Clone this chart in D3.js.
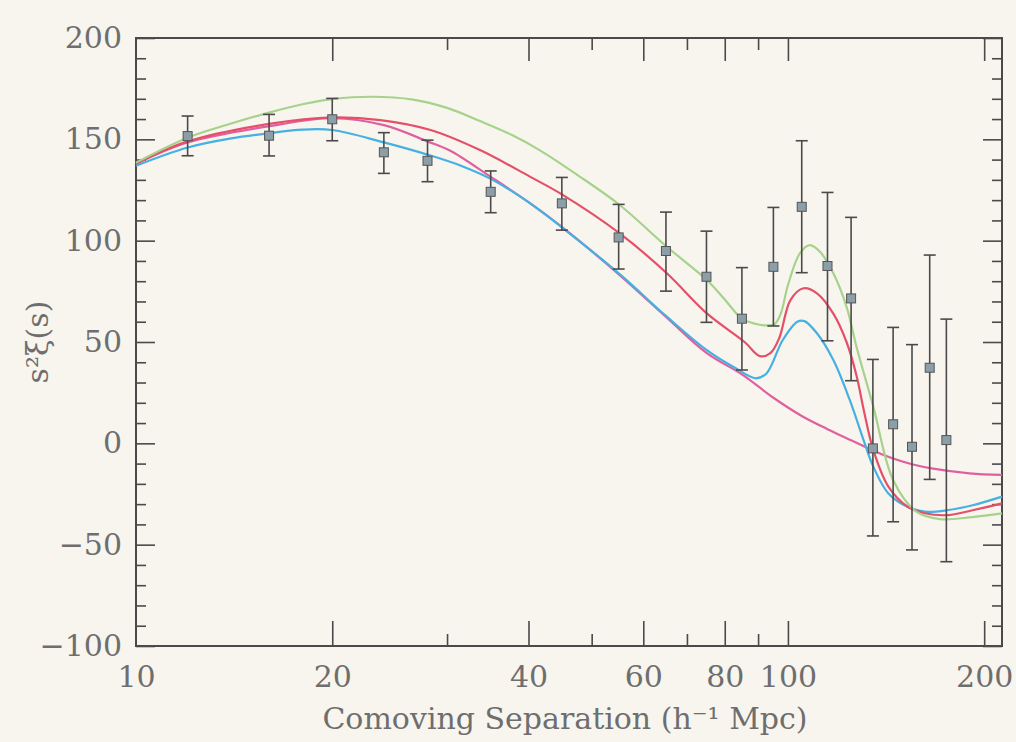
<!DOCTYPE html>
<html>
<head>
<meta charset="utf-8">
<script src="https://cdn.jsdelivr.net/npm/d3@7"></script>
<style>
  html, body { margin: 0; padding: 0; background: #f8f5ee; }
  svg { display: block; }
</style>
</head>
<body>
<svg id="chart" width="1016" height="742"></svg>
<script>
// ---- data ----
const pointS   = [12, 16, 20, 24, 28, 35, 45, 55, 65, 75, 85, 95, 105, 115, 125, 135, 145, 155, 165, 175];
const pointVal = [151.6, 151.8, 159.9, 143.6, 139.4, 124.1, 118.4, 101.6, 94.9, 82.2, 61.5, 87.1, 116.7, 87.5, 71.5, -2.5, 9.4, -1.7, 37.3, 1.6];
const errHigh  = [161.5, 162.3, 170.2, 153.3, 149.6, 134.4, 131.2, 117.9, 114.1, 104.7, 86.7, 116.4, 149.3, 123.8, 111.5, 41.4, 57.2, 48.7, 92.9, 61.3];
const errLow   = [141.9, 141.8, 149.3, 133.2, 129.1, 113.8, 105.2, 86.0, 75.1, 59.7, 36.2, 57.9, 84.2, 50.6, 30.9, -45.7, -38.7, -52.6, -17.8, -58.4];

// model curves: [s, s^2 xi(s)]
const greenCurve = [[10,138.5],[12,150.8],[14,157.8],[16,163.2],[18,167.3],[20,169.8],[23,171],[26.6,169.6],[30,165.5],[33.7,159],[37.8,152],[41.6,144.7],[47.5,132.5],[55.2,117.6],[65.2,97],[75.1,80.6],[80,71],[85,61.5],[89,59],[92.5,58.2],[95.4,58.8],[97.5,64],[100,78],[104.3,93.7],[108,97.8],[112,94.5],[117.4,83.9],[123,67.4],[127.4,47.7],[135.2,18.1],[145,-18.1],[157.4,-33.7],[171,-37.4],[192,-36.4],[213,-34.6]];
const redCurve   = [[10,138],[12,149],[16,157.6],[20,160.8],[23.7,159.5],[28.3,154.6],[33.7,144.7],[40.2,131.6],[45.2,122.5],[55.2,103.6],[65.2,83.9],[75.1,64.1],[85.8,50],[90.6,43],[94,44.5],[97,52],[100.9,70.7],[105.7,76.5],[110.8,74],[117.4,64],[123,50],[127.4,33.5],[131,15],[135.2,-3.3],[142.6,-21.4],[152.6,-31.3],[162.2,-34.5],[176.2,-35.4],[192.7,-32.9],[213,-29.6]];
const blueCurve  = [[10,137],[12,146],[14,150.5],[16,153],[18,154.8],[20,154.6],[24,148.5],[28.3,142],[31.5,137],[35,130.5],[40,119],[45.2,106.1],[55.2,83.5],[65.2,62.5],[75.1,46],[82.4,37.8],[89.3,32.1],[92.7,34.5],[98.2,51],[103.4,60],[106,60.3],[110.8,54.3],[117.4,41.1],[124.4,21.4],[130.5,2],[135.2,-11.5],[142.6,-24.7],[152.6,-31.3],[162.2,-33.7],[176.2,-32.9],[192.7,-30.4],[213,-26.3]];
const noWiggleCurve = [[10,138],[12,148.5],[16,156.5],[20,160.4],[24,157],[28,149],[30.3,144.5],[35,131.5],[40,119],[45.2,106.3],[55.2,83],[65.2,62],[75.1,44.5],[85,34],[95,22.5],[105,13.5],[115,7],[125,1.5],[135,-3.5],[145,-7.5],[155,-10.3],[167,-12.5],[190,-14.8],[213,-15.6]];

const xMajorTicks = [20, 40, 60, 80, 100, 200];
const xMinorTicks = [30, 50, 70, 90];
const xLabelTicks = [10, 20, 40, 60, 80, 100, 200];
const yMajorTicks = [-100, -50, 0, 50, 100, 150, 200];
const yMinorTicks = [-90,-80,-70,-60,-40,-30,-20,-10,10,20,30,40,60,70,80,90,110,120,130,140,160,170,180,190];

const xLabel = "Comoving Separation (h\u207B\u00B9 Mpc)";
const yLabel = "s\u00B2\u03BE(s)";

// ---- layout ----
const L = 136, R = 1002, T = 38, B = 646;
const svg = d3.select("#chart");
const x = d3.scaleLog().domain([10, 213]).range([L, R]);
const y = d3.scaleLinear().domain([-100, 200]).range([B, T]);

const FONT = "'DejaVu Serif', 'Liberation Serif', serif";
const TEXT = "#6e6e6e";
const INK = "#4a4a4a";

svg.append("rect").attr("width", 1016).attr("height", 742).attr("fill", "#f8f5ee");

function styleAxis(g) {
  g.select(".domain").remove();
  g.selectAll(".tick line").attr("stroke", INK).attr("stroke-width", 1.6);
  g.selectAll(".tick text").attr("fill", TEXT).attr("font-family", FONT).attr("font-size", 30);
}

// bottom
svg.append("g").attr("transform", `translate(0,${B})`)
  .call(d3.axisBottom(x).tickValues(xMajorTicks).tickSize(-25).tickFormat(""))
  .call(styleAxis);
svg.append("g").attr("transform", `translate(0,${B})`)
  .call(d3.axisBottom(x).tickValues(xMinorTicks).tickSize(-12).tickFormat(""))
  .call(styleAxis);
svg.append("g").attr("transform", `translate(0,${B})`)
  .call(d3.axisBottom(x).tickValues(xLabelTicks).tickSize(0).tickPadding(20).tickFormat(d3.format("d")))
  .call(styleAxis);
// top
svg.append("g").attr("transform", `translate(0,${T})`)
  .call(d3.axisTop(x).tickValues(xMajorTicks).tickSize(-23).tickFormat(""))
  .call(styleAxis);
svg.append("g").attr("transform", `translate(0,${T})`)
  .call(d3.axisTop(x).tickValues(xMinorTicks).tickSize(-12).tickFormat(""))
  .call(styleAxis);
// left
svg.append("g").attr("transform", `translate(${L},0)`)
  .call(d3.axisLeft(y).tickValues(yMajorTicks).tickSize(-19).tickPadding(14).tickFormat(d => d < 0 ? "\u2212" + Math.abs(d) : d))
  .call(styleAxis);
svg.append("g").attr("transform", `translate(${L},0)`)
  .call(d3.axisLeft(y).tickValues(yMinorTicks).tickSize(-10).tickFormat(""))
  .call(styleAxis);
// right
svg.append("g").attr("transform", `translate(${R},0)`)
  .call(d3.axisRight(y).tickValues(yMajorTicks).tickSize(-19).tickFormat(""))
  .call(styleAxis);
svg.append("g").attr("transform", `translate(${R},0)`)
  .call(d3.axisRight(y).tickValues(yMinorTicks).tickSize(-10).tickFormat(""))
  .call(styleAxis);

// frame
svg.append("rect").attr("x", L).attr("y", T).attr("width", R - L).attr("height", B - T)
  .attr("fill", "none").attr("stroke", INK).attr("stroke-width", 2);

// curves
const line = d3.line().x(d => x(d[0])).y(d => y(d[1])).curve(d3.curveCatmullRom.alpha(0.5));
const curves = [
  { data: noWiggleCurve, color: "#e0609f" },
  { data: blueCurve, color: "#46b0e2" },
  { data: redCurve, color: "#e4506a" },
  { data: greenCurve, color: "#a6d28c" }
];
svg.append("g").selectAll("path").data(curves).join("path")
  .attr("d", d => line(d.data))
  .attr("fill", "none").attr("stroke", d => d.color).attr("stroke-width", 2.2);

// error bars
const pts = pointS.map((s, i) => ({ s, v: pointVal[i], hi: errHigh[i], lo: errLow[i] }));
const eg = svg.append("g").attr("stroke", INK).attr("stroke-width", 1.6);
eg.selectAll("line.v").data(pts).join("line").attr("class", "v")
  .attr("x1", d => x(d.s)).attr("x2", d => x(d.s)).attr("y1", d => y(d.hi)).attr("y2", d => y(d.lo));
eg.selectAll("line.h").data(pts).join("line").attr("class", "h")
  .attr("x1", d => x(d.s) - 6).attr("x2", d => x(d.s) + 6).attr("y1", d => y(d.hi)).attr("y2", d => y(d.hi));
eg.selectAll("line.l").data(pts).join("line").attr("class", "l")
  .attr("x1", d => x(d.s) - 6).attr("x2", d => x(d.s) + 6).attr("y1", d => y(d.lo)).attr("y2", d => y(d.lo));

// markers
svg.append("g").selectAll("rect").data(pts).join("rect")
  .attr("x", d => x(d.s) - 4.5).attr("y", d => y(d.v) - 4.5)
  .attr("width", 9).attr("height", 9)
  .attr("fill", "#8c9ea7").attr("stroke", "#555").attr("stroke-width", 1);

// axis titles
svg.append("text").attr("x", 565).attr("y", 729).attr("text-anchor", "middle")
  .attr("font-family", FONT).attr("font-size", 30).attr("fill", TEXT).text(xLabel);
svg.append("text").attr("transform", "translate(48,342) rotate(-90)").attr("text-anchor", "middle")
  .attr("font-family", FONT).attr("font-size", 30).attr("fill", TEXT).text(yLabel);
</script>
</body>
</html>
